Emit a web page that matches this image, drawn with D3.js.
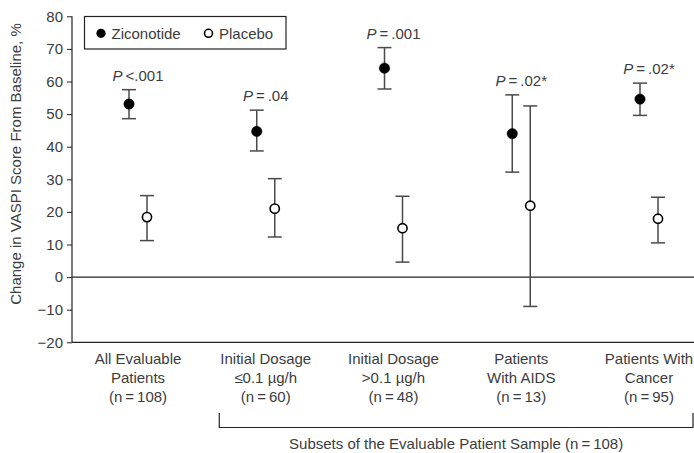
<!DOCTYPE html>
<html>
<head>
<meta charset="utf-8">
<style>
  body { margin: 0; background: #fff; }
  svg text { font-family: "Liberation Sans", Arial, Helvetica, sans-serif; fill: #3c3c3c; }
  .axis .domain { display: none; }
  .axis line { stroke: #222; }
  .axis text { font-size: 15px; }
</style>
</head>
<body>
<svg width="694" height="453"></svg>
<script src="https://d3js.org/d3.v7.min.js"></script>
<script>

// data
var categories = ["all", "low", "high", "aids", "cancer"];
var catLabels = [
  ["All Evaluable", "Patients", "(n\u2009=\u2009108)"],
  ["Initial Dosage", "\u22640.1 \u00b5g/h", "(n\u2009=\u200960)"],
  ["Initial Dosage", ">0.1 \u00b5g/h", "(n\u2009=\u200948)"],
  ["Patients", "With AIDS", "(n\u2009=\u200913)"],
  ["Patients With", "Cancer", "(n\u2009=\u200995)"]
];
var zicMean = [53.1, 44.7, 64.1, 44.0, 54.6];
var zicLow  = [48.6, 38.7, 57.7, 32.2, 49.6];
var zicHigh = [57.5, 51.2, 70.4, 55.9, 59.5];
var plaMean = [18.4, 21.0, 15.0, 21.9, 17.9];
var plaLow  = [11.2, 12.3, 4.6, -9.0, 10.5];
var plaHigh = [25.0, 30.2, 24.8, 52.5, 24.5];
var pLabels = ["\u2009<.001", "\u2009=\u2009.04", "\u2009=\u2009.001", "\u2009=\u2009.02*", "\u2009=\u2009.02*"];
var yTicks = [-20, -10, 0, 10, 20, 30, 40, 50, 60, 70, 80];

var svg = d3.select("svg"),
    plotL = 72, plotR = 694, plotT = 16.3, plotB = 342.3;

var y = d3.scaleLinear().domain([-20, 80]).range([plotB, plotT]);
var x = d3.scalePoint().domain(categories).range([138, 649]);
var off = 9, cap = 7;

// y axis
svg.append("g")
    .attr("class", "axis")
    .attr("transform", "translate(" + plotL + ",0)")
    .call(d3.axisLeft(y).tickValues(yTicks).tickSize(5).tickSizeOuter(0).tickPadding(4))
    .selectAll("text").attr("fill", "#3c3c3c");

svg.append("line").attr("x1", plotL).attr("x2", plotL).attr("y1", plotT).attr("y2", plotB)
    .attr("stroke", "#222").attr("stroke-width", 1.2);
svg.append("line").attr("x1", plotL).attr("x2", plotR).attr("y1", plotB).attr("y2", plotB)
    .attr("stroke", "#222").attr("stroke-width", 1.2);
svg.append("line").attr("x1", plotL).attr("x2", plotR).attr("y1", y(0)).attr("y2", y(0))
    .attr("stroke", "#222").attr("stroke-width", 1.2);

svg.append("text")
    .attr("transform", "translate(21,164) rotate(-90)")
    .attr("text-anchor", "middle")
    .style("font-size", "15px")
    .text("Change in VASPI Score From Baseline, %");

// category labels
var cl = svg.append("g").selectAll("text")
    .data(categories)
    .enter().append("text")
      .attr("text-anchor", "middle")
      .style("font-size", "15px")
      .attr("x", function(d) { return x(d); })
      .attr("y", 364);
cl.each(function(d, i) {
  var t = d3.select(this);
  catLabels[i].forEach(function(s, j) {
    t.append("tspan").attr("x", x(d)).attr("dy", j ? 19 : 0).text(s);
  });
});

// bracket for subsets
var bl = x(categories[1]) - 46.5, br = x(categories[4]) + 44;
svg.append("path")
    .attr("d", "M" + bl + ",413V427.5H" + br + "V413")
    .attr("fill", "none").attr("stroke", "#222").attr("stroke-width", 1.2);
svg.append("text")
    .attr("x", (bl + br) / 2).attr("y", 449)
    .attr("text-anchor", "middle")
    .style("font-size", "15px")
    .text("Subsets of the Evaluable Patient Sample (n\u2009=\u2009108)");

// error bars + points
function series(mean, lo, hi, dx, filled) {
  var g = svg.append("g");
  var pts = categories.map(function(c, i) { return {c: c, m: mean[i], lo: lo[i], hi: hi[i]}; });
  var bar = g.selectAll("g").data(pts).enter().append("g")
      .attr("stroke", "#4a4a4a").attr("stroke-width", 1.5);
  bar.append("line")
      .attr("x1", function(d) { return x(d.c) + dx; })
      .attr("x2", function(d) { return x(d.c) + dx; })
      .attr("y1", function(d) { return y(d.lo); })
      .attr("y2", function(d) { return y(d.hi); });
  ["lo", "hi"].forEach(function(k) {
    bar.append("line")
        .attr("x1", function(d) { return x(d.c) + dx - cap; })
        .attr("x2", function(d) { return x(d.c) + dx + cap; })
        .attr("y1", function(d) { return y(d[k]); })
        .attr("y2", function(d) { return y(d[k]); });
  });
  g.selectAll("circle").data(pts).enter().append("circle")
      .attr("cx", function(d) { return x(d.c) + dx; })
      .attr("cy", function(d) { return y(d.m); })
      .attr("r", filled ? 5.2 : 4.6)
      .attr("fill", filled ? "#000" : "#fff")
      .attr("stroke", "#000")
      .attr("stroke-width", filled ? 0.5 : 1.6);
}
series(zicMean, zicLow, zicHigh, -off, true);
series(plaMean, plaLow, plaHigh, off, false);

// P values
var pt = svg.append("g").selectAll("text")
    .data(categories)
    .enter().append("text")
      .attr("text-anchor", "middle")
      .style("font-size", "15px")
      .attr("x", function(d) { return x(d); })
      .attr("y", function(d, i) { return y(zicHigh[i]) - 9; });
pt.append("tspan").attr("font-style", "italic").text("P");
pt.append("tspan").text(function(d, i) { return pLabels[i]; });

// legend
var lg = svg.append("g");
lg.append("rect").attr("x", 84.5).attr("y", 16.5).attr("width", 201.5).attr("height", 32.5)
    .attr("fill", "#fff").attr("stroke", "#222").attr("stroke-width", 1.2);
lg.append("circle").attr("cx", 101).attr("cy", 33.3).attr("r", 4.6).attr("fill", "#000");
lg.append("text").attr("x", 111.5).attr("y", 38.5).style("font-size", "15px").text("Ziconotide");
lg.append("circle").attr("cx", 208.5).attr("cy", 33.3).attr("r", 4).attr("fill", "#fff")
    .attr("stroke", "#000").attr("stroke-width", 1.6);
lg.append("text").attr("x", 219).attr("y", 38.5).style("font-size", "15px").text("Placebo");

</script>
</body>
</html>
